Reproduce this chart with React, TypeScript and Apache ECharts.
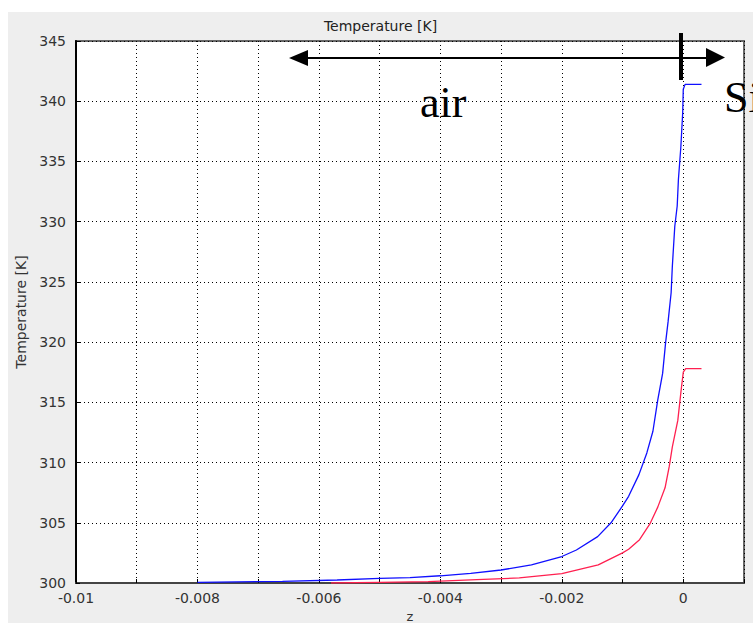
import React, { useEffect, useRef } from "react";
import * as echarts from "echarts";

const blueZ = [-0.008, -0.0066, -0.0057, -0.005, -0.0045, -0.004, -0.0035, -0.003, -0.0025, -0.002, -0.00176, -0.00141, -0.00119, -0.001, -0.0009, -0.00073, -0.0006, -0.0005, -0.00042, -0.00034, -0.00029, -0.00025, -0.0002, -0.00018, -0.00014, -0.0001, -0.00008, -0.00004, -0.00001, 0.0, 0.00003, 0.0003];
const blueT = [300.05, 300.14, 300.25, 300.38, 300.45, 300.6, 300.8, 301.08, 301.5, 302.2, 302.74, 303.85, 305.0, 306.4, 307.2, 309.0, 310.8, 312.6, 315.2, 317.4, 320.0, 321.7, 324.1, 326.3, 329.6, 331.3, 333.5, 336.2, 339.0, 341.0, 341.4, 341.4];

const redZ = [-0.0058, -0.005, -0.0042, -0.0034, -0.0027, -0.002, -0.0014, -0.001, -0.0009, -0.00072, -0.00055, -0.00042, -0.0003, -0.00023, -0.00018, -0.00009, -0.00004, 0.0, 0.00004, 0.0003];
const redT = [300.0, 300.05, 300.12, 300.28, 300.42, 300.78, 301.5, 302.5, 302.8, 303.6, 304.9, 306.3, 307.9, 309.7, 311.3, 313.5, 315.8, 317.5, 317.8, 317.8];

const xMin = -0.01;
const xMax = 0.001;
const yMin = 300;
const yMax = 345;

const FONT = "DejaVu Sans";

export default function App() {
  const ref = useRef<HTMLDivElement>(null);
  useEffect(() => {
    if (!ref.current) return;
    const chart = echarts.init(ref.current, undefined, { renderer: "svg" });
    const blue = blueZ.map((z, i) => [z, blueT[i]]);
    const red = redZ.map((z, i) => [z, redT[i]]);
    chart.setOption({
      animation: false,
      backgroundColor: "#eeeeee",
      title: {
        text: "Temperature [K]",
        left: "center",
        top: 2,
        textStyle: { fontFamily: FONT, fontSize: 14, fontWeight: "normal", color: "#222" },
      },
      grid: {
        left: 68,
        right: 9,
        top: 29,
        bottom: 40,
        outerBoundsMode: "none",
        containLabel: false,
        show: true,
        backgroundColor: "#ffffff",
        borderColor: "#666666",
        borderWidth: 2,
      },
      xAxis: {
        type: "value",
        min: xMin,
        max: xMax,
        interval: 0.001,
        name: "z",
        nameLocation: "middle",
        nameGap: 24,
        nameTextStyle: { fontFamily: FONT, fontSize: 13, color: "#333" },
        axisLine: { show: true, onZero: false, lineStyle: { color: "#444", width: 2 } },
        axisTick: { show: true, inside: true, length: 4, lineStyle: { color: "#000" } },
        axisLabel: {
          fontFamily: FONT,
          fontSize: 14,
          color: "#333",
          margin: 8,
          formatter: (v: number) => {
            const k = Math.round(v * 1000);
            if (k % 2 !== 0 || k > 0) return "";
            return String(k / 1000);
          },
        },
        splitLine: { show: true, lineStyle: { type: [1, 3], color: "#000", width: 1 } },
      },
      yAxis: {
        type: "value",
        min: yMin,
        max: yMax,
        interval: 5,
        name: "Temperature [K]",
        nameLocation: "middle",
        nameGap: 44,
        nameTextStyle: { fontFamily: FONT, fontSize: 14, color: "#333" },
        axisLine: { show: true, onZero: false, lineStyle: { color: "#000", width: 2 } },
        axisTick: { show: true, inside: true, length: 4, lineStyle: { color: "#000" } },
        axisLabel: { fontFamily: FONT, fontSize: 14, color: "#333", margin: 10 },
        splitLine: { show: true, lineStyle: { type: [1, 3], color: "#000", width: 1 } },
      },
      series: [
        {
          type: "line",
          data: red,
          showSymbol: false,
          lineStyle: { color: "#ff2050", width: 1.3 },
          z: 3,
        },
        {
          type: "line",
          data: blue,
          showSymbol: false,
          lineStyle: { color: "#1010ff", width: 1.3 },
          z: 4,
        },
      ],
      graphic: [
        { type: "line", shape: { x1: 296, y1: 46, x2: 702, y2: 46 }, style: { stroke: "#000", lineWidth: 2 }, z: 100 },
        { type: "polygon", shape: { points: [[281, 46], [300, 38], [300, 54]] }, style: { fill: "#000" }, z: 100 },
        { type: "polygon", shape: { points: [[717, 45.5], [698, 36], [698, 55]] }, style: { fill: "#000" }, z: 100 },
        { type: "rect", shape: { x: 671, y: 21, width: 4, height: 47 }, style: { fill: "#000" }, z: 100 },
        {
          type: "text",
          x: 412,
          y: 68,
          style: { text: "air", font: "44px 'Liberation Serif'", fill: "#000" },
          z: 100,
        },
        {
          type: "text",
          x: 716,
          y: 63,
          style: { text: "Si", font: "44px 'Liberation Serif'", fill: "#000" },
          z: 100,
        },
      ],
    });
    return () => chart.dispose();
  }, []);
  return (
    <div
      ref={ref}
      style={{ position: "absolute", left: 8, top: 12, width: 745, height: 611 }}
    />
  );
}
